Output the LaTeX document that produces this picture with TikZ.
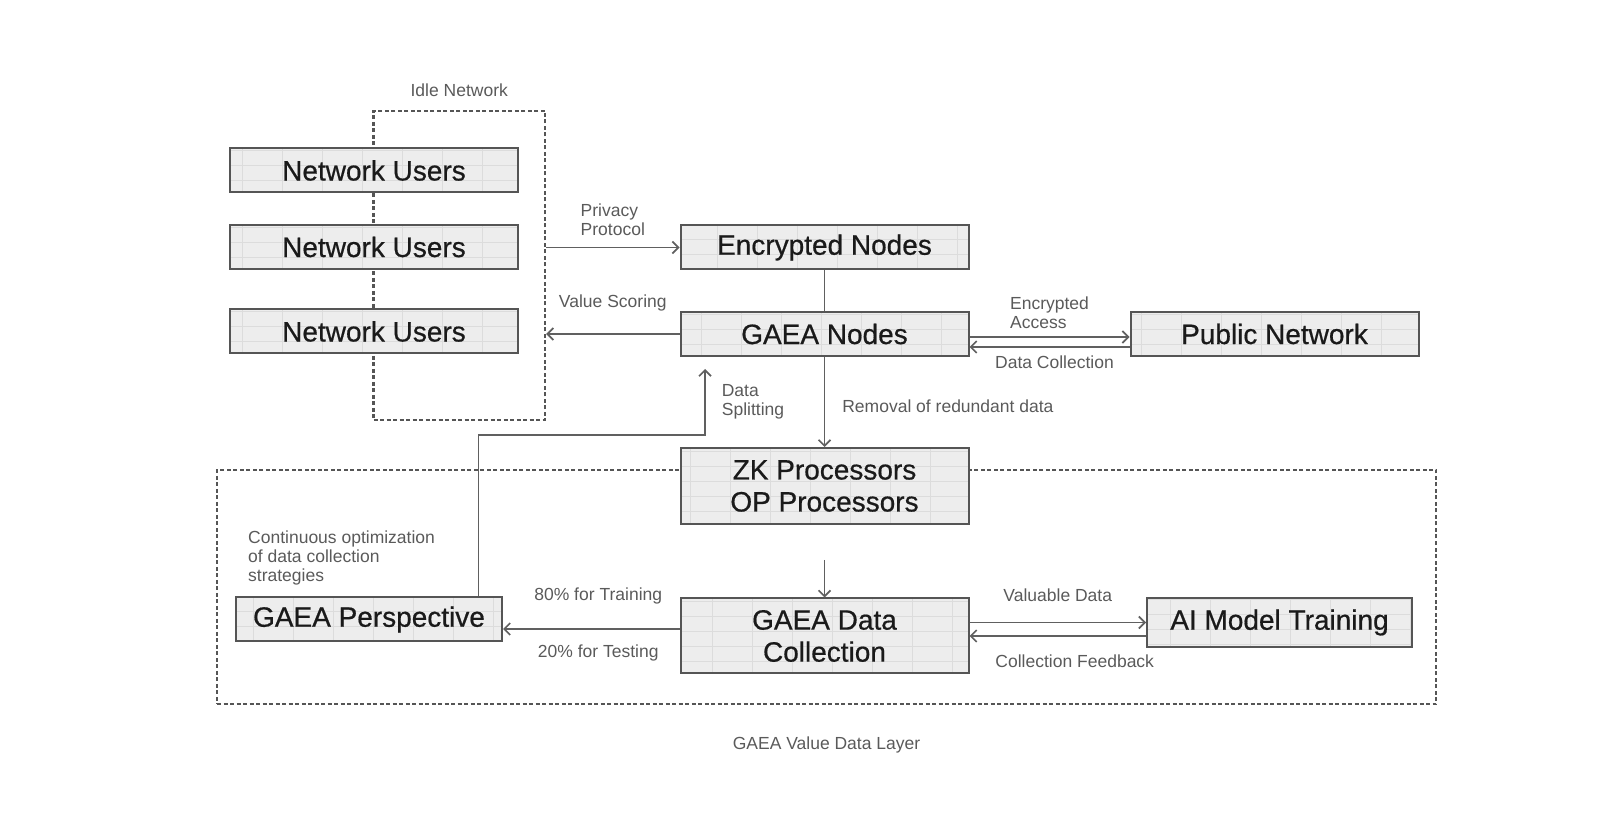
\documentclass[tikz,border=0pt]{standalone}
\usepackage{fontspec}
\setmainfont{Liberation Sans}
\newfontfamily\boxfont[FakeBold=0.6]{Liberation Sans}
\usetikzlibrary{arrows.meta,positioning}

\definecolor{boxline}{HTML}{555555}
\definecolor{boxfill}{HTML}{EDEDED}
\definecolor{gridline}{HTML}{DCDCDC}
\definecolor{boxtext}{HTML}{1A1A1A}
\definecolor{lbltext}{HTML}{5A5A5A}
\definecolor{wirec}{HTML}{606060}

\tikzset{
  block/.style={draw=boxline, line width=2pt, fill=boxfill, text=boxtext, align=center,
    minimum width=288pt, minimum height=44pt, inner sep=0pt,
    font=\boxfont\fontsize{28}{32}\selectfont,
    path picture={\draw[gridline, line width=0.5pt]
      (path picture bounding box.south west) grid[xstep=40pt, ystep=15pt]
      (path picture bounding box.north east);}},
  group/.style={draw=boxline, line width=2.2pt, dash pattern=on 4pt off 2.5pt, inner sep=0pt},
  lbl/.style={text=lbltext, font=\fontsize{17.5}{19}\selectfont, align=left, inner sep=2pt},
  link/.style={draw=wirec, line width=1.7pt},
  arr/.style={link, -{Straight Barb[length=6pt,width=12pt]}},
}

\begin{document}
\begin{tikzpicture}[x=1pt, y=1pt]
  \useasboundingbox (0,0) rectangle (1600,830);

  % dashed groups first, so the blocks cover them
  \node[group, minimum width=171.5pt, minimum height=309pt] (idle) at (459.25,564.5) {};
  \node[group, minimum width=1219pt, minimum height=234pt] (layer) at (826.5,243) {};
  \node[lbl, above=11pt of idle] (idlelbl) {Idle Network};
  \node[lbl, below=30pt of layer] (layerlbl) {GAEA Value Data Layer};

  \node[block] (nu1) at (374,659.5) {Network Users};
  \node[block] (nu2) at (374,583) {Network Users};
  \node[block] (nu3) at (374,498.5) {Network Users};

  \node[block] (enc) at (824.5,582.5) {Encrypted Nodes};
  \node[block] (gaea) at (824.5,496) {GAEA Nodes};
  \node[block] (public) at (1274.5,496) {Public Network};
  \node[block, minimum height=76pt] (zkop) at (824.5,344) {ZK Processors\\OP Processors};
  \node[block, minimum height=75pt] (collect) at (824.5,194) {GAEA Data\\Collection};
  \node[block, minimum width=266pt] (persp) at (369,210.5) {GAEA Perspective};
  \node[block, minimum width=265pt, minimum height=49pt] (aimodel) at (1279.5,207.5) {AI Model Training};

  \node[lbl, anchor=west] (optim) at (246,272) {Continuous optimization\\of data collection\\strategies};

  \coordinate (zkout) at (824.5,270);
  \coordinate (tapx) at (478.6,0);
  \coordinate (bend) at (705,395);
  \coordinate (ginto) at (705,461);
  \coordinate (split) at ([yshift=7pt]collect.west);

  \draw[arr] (idle.east |- enc.west) -- node[lbl, above=9pt] {Privacy\\Protocol} (enc.west);
  \draw[arr] (gaea.west) -- node[lbl, above=20pt] {Value Scoring} (idle.east |- gaea.west);
  \draw[link] (enc) -- (gaea);
  \draw[arr] (gaea) -- node[lbl, right=15pt, pos=0.55] {Removal of redundant data} (zkop);
  \draw[arr] ([yshift=-3pt]gaea.east) -- node[lbl, above=5pt] {Encrypted\\Access} ([yshift=-3pt]public.west);
  \draw[arr] ([yshift=-13pt]public.west) -- node[lbl, below=6pt, xshift=5pt] {Data Collection} ([yshift=-13pt]gaea.east);
  \draw[arr] (zkout) -- (collect);
  \draw[arr] (split) -- node[lbl, above=22pt, xshift=7pt] {80\% for Training}
    node[lbl, below=13pt, xshift=7pt] {20\% for Testing} (persp.east |- split);
  \draw[arr] (collect.east |- aimodel.west) -- node[lbl, above=18pt] {Valuable Data} (aimodel.west);
  \draw[arr] (aimodel.west |- collect.east) -- node[lbl, below=16pt, xshift=17pt] {Collection Feedback} (collect.east);
  \draw[arr] (persp.north -| tapx) |- (bend) -- node[lbl, right=14pt] {Data\\Splitting} (ginto);
\end{tikzpicture}
\end{document}
